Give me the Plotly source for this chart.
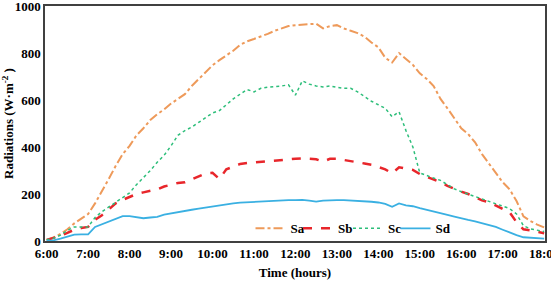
import plotly.graph_objects as go

# Time axis: every 10 minutes from 6:00 to 18:00 (decimal hours)
times = [6 + k / 6 for k in range(73)]

Sa = [5, 15, 30, 50, 75, 95, 115, 160, 210, 265, 320, 370,
      405, 450, 480, 515, 540, 560, 585, 605, 625, 660, 690, 720,
      748, 770, 790, 810, 835, 850, 860, 870, 882, 895, 905, 915,
      919, 920, 924, 925, 905, 915, 919, 905, 895, 885, 870, 845,
      825, 780, 760, 800, 775, 750, 714, 690, 660, 605, 565, 525,
      480, 455, 420, 370, 330, 290, 250, 220, 170, 105, 85, 70, 58]

Sb = [5, 12, 22, 35, 48, 55, 60, 90, 110, 135, 160, 175,
      188, 200, 207, 213, 220, 232, 240, 247, 250, 262, 275, 288,
      290, 264, 305, 318, 328, 332, 335, 337, 340, 342, 346, 348,
      350, 352, 351, 348, 338, 350, 350, 344, 340, 335, 330, 325,
      315, 305, 288, 314, 308, 303, 285, 274, 262, 250, 235, 222,
      210, 200, 187, 173, 165, 150, 138, 122, 80, 50, 45, 40, 33]

Sc = [5, 12, 25, 45, 60, 60, 60, 100, 125, 145, 165, 185,
      205, 240, 270, 300, 335, 365, 405, 450, 470, 485, 505, 525,
      545, 555, 580, 605, 625, 645, 635, 650, 655, 657, 660, 665,
      621, 682, 668, 660, 656, 660, 655, 650, 650, 635, 615, 595,
      580, 565, 529, 550, 470, 400, 290, 278, 268, 258, 240, 222,
      210, 200, 190, 180, 170, 160, 148, 138, 115, 65, 52, 46, 40]

Sd = [0, 3, 10, 18, 27, 28, 28, 60, 72, 82, 95, 106,
      106, 102, 97, 100, 103, 112, 118, 122, 127, 133, 138, 143,
      148, 152, 157, 160, 163, 165, 166, 168, 170, 171, 173, 174,
      174, 175, 172, 168, 172, 174, 174, 174, 173, 171, 169, 167,
      164, 158, 146, 160, 152, 148, 140, 132, 126, 118, 111, 104,
      96, 90, 84, 77, 70, 60, 48, 36, 25, 16, 13, 11, 10]

tick_vals = list(range(6, 19))
tick_text = [f"{h}:00" for h in tick_vals]
y_ticks = [0, 200, 400, 600, 800, 1000]

FONT = "Liberation Serif, Times New Roman, serif"
BOLD = dict(family=FONT, size=13, color="#000000", weight="bold")

series = [("Sa", Sa, "#EE9A5A", 2, "dashdot", "legend"),
          ("Sb", Sb, "#E8262B", 2.5, "dash", "legend2"),
          ("Sc", Sc, "#2DBE7A", 1.5, "dot", "legend3"),
          ("Sd", Sd, "#3AB0E2", 1.8, "solid", "legend4")]

fig = go.Figure()
for name, vals, color, w, dash, lg in series:
    fig.add_trace(go.Scatter(x=times, y=vals, name=name, mode="lines", legend=lg,
                             line=dict(color=color, width=w, dash=dash)))

def leg(x):
    return dict(orientation="h", x=x, y=-0.01, xanchor="left", yanchor="bottom",
                bgcolor="rgba(0,0,0,0)", font=BOLD)

fig.update_layout(
    width=551, height=282,
    margin=dict(l=45, r=6, t=6, b=41, autoexpand=False),
    paper_bgcolor="white", plot_bgcolor="white",
    font=BOLD,
    showlegend=True,
    legend=leg(0.411), legend2=leg(0.506), legend3=leg(0.606), legend4=leg(0.701),
    xaxis=dict(range=[5.96, 18.02], tickvals=tick_vals, ticktext=tick_text,
               showgrid=False, zeroline=False, showline=True, mirror=True,
               linecolor="#404040", linewidth=1.5, ticks="", automargin=False,
               ticklabeloverflow="allow",
               tickfont=BOLD,
               title=dict(text="Time (hours)", font=BOLD, standoff=8)),
    yaxis=dict(range=[0, 1000.5], tickvals=y_ticks,
               showgrid=False, zeroline=False, showline=True, mirror=True,
               linecolor="#404040", linewidth=1.5, ticks="", automargin=False,
               ticklabeloverflow="allow",
               tickfont=BOLD,
               title=dict(text="Radiations (W·m<sup>-2</sup> )", font=BOLD, standoff=6)),
)

fig.write_html("out.html")
